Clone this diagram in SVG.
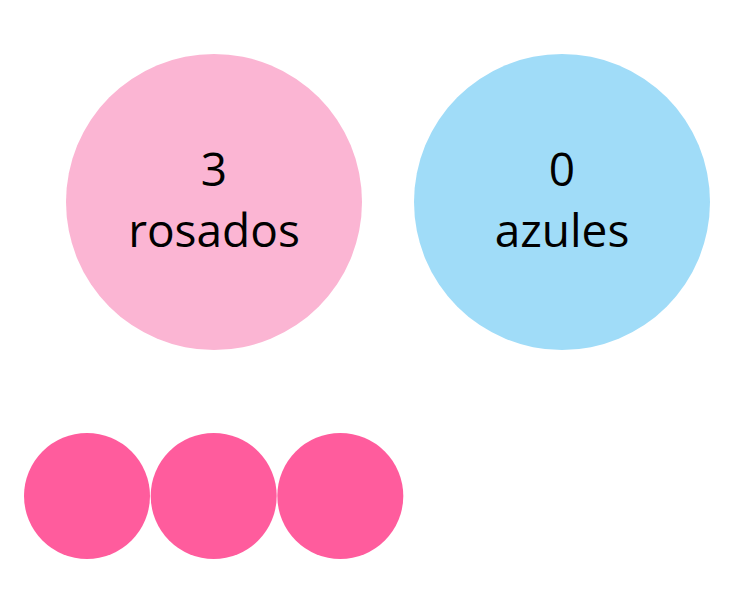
<svg xmlns="http://www.w3.org/2000/svg" width="751" height="599" viewBox="0 0 751 599">
<style>
.lbl{font-family:"Open Sans","Liberation Sans",sans-serif;font-size:46px;fill:#000;text-anchor:middle}
.dot{fill:#FF5C9D}
</style>
<rect width="751" height="599" fill="#fff"/>
<g id="rosados">
<circle cx="214" cy="202" r="148" fill="#FBB5D3"/>
<text class="lbl" x="214" y="186">3</text>
<text class="lbl" x="214" y="247">rosados</text>
</g>
<g id="azules">
<circle cx="562" cy="202" r="148" fill="#A0DCF8"/>
<text class="lbl" x="562" y="186">0</text>
<text class="lbl" x="562" y="247">azules</text>
</g>
<g id="dot1"><circle class="dot" cx="87" cy="496" r="63"/></g>
<g id="dot2"><circle class="dot" cx="213.7" cy="496" r="63"/></g>
<g id="dot3"><circle class="dot" cx="340.3" cy="496" r="63"/></g>
<g id="connectors"></g>
</svg>
